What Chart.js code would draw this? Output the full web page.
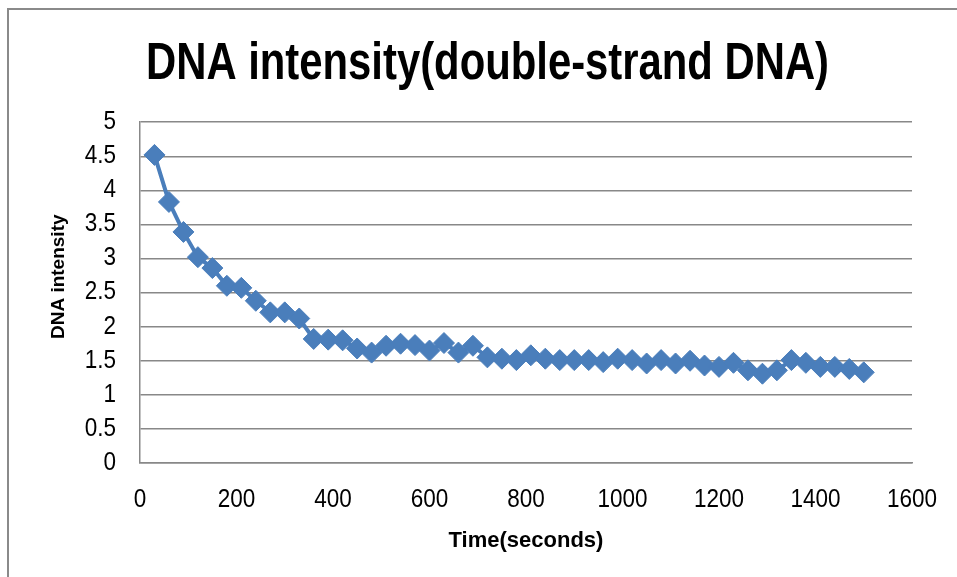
<!DOCTYPE html>
<html>
<head>
<meta charset="utf-8">
<script src="https://cdn.jsdelivr.net/npm/chart.js@4"></script>
<style>
  html, body { margin: 0; padding: 0; background: #ffffff; }
  #wrap { position: relative; width: 957px; height: 577px; overflow: hidden; }
  #frame { position: absolute; left: 7px; top: 8px; width: 1000px; height: 1000px;
           border-top: 2px solid #8a8a8a; border-left: 2px solid #8a8a8a; box-sizing: border-box; }
  canvas { position: absolute; left: 0; top: 0; }
</style>
</head>
<body>
<div id="wrap">
  <div id="frame"></div>
  <canvas id="c" width="957" height="577"></canvas>
</div>
<script>
// Sampling times (s) and measured intensity of double-strand DNA
const timeSeconds = [
  30, 60, 90, 120, 150, 180, 210, 240, 270, 300,
  330, 360, 390, 420, 450, 480, 510, 540, 570, 600,
  630, 660, 690, 720, 750, 780, 810, 840, 870, 900,
  930, 960, 990, 1020, 1050, 1080, 1110, 1140, 1170, 1200,
  1230, 1260, 1290, 1320, 1350, 1380, 1410, 1440, 1470, 1500
];
const dnaIntensity = [
  4.52, 3.83, 3.39, 3.02, 2.86, 2.60, 2.57, 2.38, 2.21, 2.21,
  2.12, 1.82, 1.81, 1.80, 1.68, 1.62, 1.72, 1.75, 1.73, 1.65,
  1.76, 1.62, 1.72, 1.55, 1.53, 1.51, 1.58, 1.53, 1.51, 1.51,
  1.51, 1.48, 1.53, 1.51, 1.46, 1.51, 1.46, 1.50, 1.43, 1.41,
  1.47, 1.36, 1.31, 1.36, 1.51, 1.47, 1.41, 1.41, 1.38, 1.33
];
const xTickValues = [0, 200, 400, 600, 800, 1000, 1200, 1400, 1600];
const yTickValues = [0, 0.5, 1, 1.5, 2, 2.5, 3, 3.5, 4, 4.5, 5];

const chartTitle = 'DNA intensity(double-strand DNA)';
const xTitle = 'Time(seconds)';
const yTitle = 'DNA intensity';

const FONT = "'Liberation Sans', Arial, sans-serif";
const GRID = '#888888';
const BLUE = '#4a7ebb';

// Horizontal squeeze per font size: heading and tick numbers use a condensed look
const SQUEEZE_BY_SIZE = { 51: 0.82, 25: 0.9 };

const canvas = document.getElementById('c');
const ctx = canvas.getContext('2d');

const plainFillText = ctx.fillText.bind(ctx);
ctx.fillText = function (text, x, y, maxWidth) {
  const m = ctx.getTransform();
  const sizeMatch = /(\d+(?:\.\d+)?)px/.exec(ctx.font);
  const k = sizeMatch ? (SQUEEZE_BY_SIZE[Math.round(parseFloat(sizeMatch[1]))] || 1) : 1;
  if (k === 1 || Math.abs(m.b) > 1e-6 || Math.abs(m.c) > 1e-6) {
    return maxWidth === undefined ? plainFillText(text, x, y) : plainFillText(text, x, y, maxWidth);
  }
  ctx.save();
  ctx.translate(x, y);
  ctx.scale(k, 1);
  if (maxWidth === undefined) plainFillText(text, 0, 0);
  else plainFillText(text, 0, 0, maxWidth / k);
  ctx.restore();
};

const points = timeSeconds.map((t, i) => ({ x: t, y: dnaIntensity[i] }));

// Widen the title block so the heading centres over the whole frame
const titleSpan = {
  id: 'titleSpan',
  afterLayout(chart) {
    if (chart.titleBlock) {
      chart.titleBlock.left = 0;
      chart.titleBlock.right = 975;
    }
  }
};

new Chart(ctx, {
  type: 'scatter',
  data: {
    datasets: [{
      label: yTitle,
      data: points,
      showLine: true,
      borderColor: BLUE,
      borderWidth: 4,
      backgroundColor: BLUE,
      pointStyle: 'rectRot',
      pointRadius: 10.5,
      pointHoverRadius: 10.5,
      pointBorderWidth: 1,
      pointBorderColor: BLUE,
      pointBackgroundColor: BLUE,
      tension: 0
    }]
  },
  plugins: [titleSpan],
  options: {
    responsive: false,
    animation: false,
    events: [],
    layout: { padding: { left: 20, right: 45, top: 10, bottom: 10 } },
    plugins: {
      legend: { display: false },
      tooltip: { enabled: false },
      title: {
        display: true,
        text: chartTitle,
        color: '#000000',
        font: { family: FONT, size: 51, weight: 'bold' },
        padding: { top: 24, bottom: 27 }
      }
    },
    scales: {
      x: {
        type: 'linear',
        min: 0,
        max: 1600,
        afterBuildTicks(scale) { scale.ticks = xTickValues.map(v => ({ value: v })); },
        afterFit(scale) {
          scale.height = 104;
          scale.paddingLeft = 0;
          scale.paddingRight = 0;
        },
        grid: { display: false, drawTicks: false },
        border: { display: true, color: GRID, width: 1.5 },
        ticks: {
          padding: 22,
          color: '#000000',
          font: { family: FONT, size: 25 },
          maxRotation: 0,
          callback: v => String(v)
        },
        title: {
          display: true,
          text: xTitle,
          color: '#000000',
          font: { family: FONT, size: 22, weight: 'bold' },
          padding: { top: 0, bottom: 13 }
        }
      },
      y: {
        type: 'linear',
        min: 0,
        max: 5,
        afterBuildTicks(scale) { scale.ticks = yTickValues.map(v => ({ value: v })); },
        afterFit(scale) { scale.width = 120; },
        grid: { color: GRID, lineWidth: 1.5, drawTicks: false },
        border: { display: true, color: GRID, width: 1.5 },
        ticks: {
          padding: 24,
          color: '#000000',
          font: { family: FONT, size: 25 },
          callback: v => String(v)
        },
        title: {
          display: true,
          text: '      ' + yTitle,
          color: '#000000',
          font: { family: FONT, size: 19, weight: 'bold' },
          padding: { top: 27, bottom: 0 }
        }
      }
    }
  }
});
</script>
</body>
</html>
